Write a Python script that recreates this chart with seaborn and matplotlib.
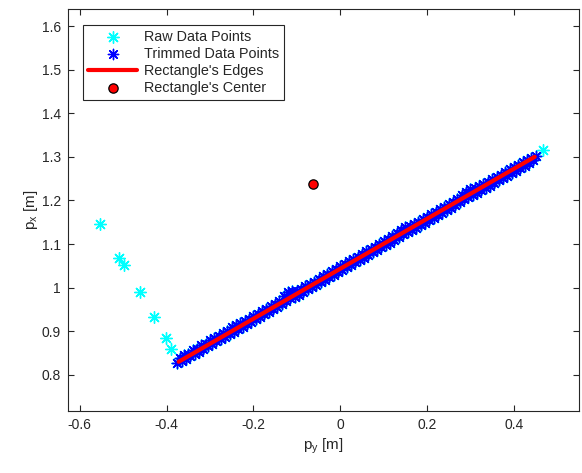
import matplotlib
matplotlib.use("Agg")
import matplotlib.pyplot as plt
import seaborn as sns
import numpy as np
import pandas as pd

# ---- data ----
outlier_x = [-0.554, -0.510, -0.497, -0.462, -0.428, -0.402, -0.389, 0.467]
outlier_y = [1.146, 1.068, 1.052, 0.990, 0.933, 0.885, 0.860, 1.316]

trim_a_x = [-0.370, -0.360, -0.350, -0.340, -0.330, -0.320, -0.310, -0.300, -0.290, -0.280,
            -0.270, -0.260, -0.250, -0.240, -0.230, -0.220, -0.210, -0.200, -0.190, -0.180,
            -0.170, -0.160, -0.150, -0.140, -0.130, -0.120, -0.110, -0.100, -0.090, -0.080,
            -0.070, -0.060, -0.050, -0.040, -0.030, -0.020, -0.010, 0.000, 0.010, 0.020,
            0.030, 0.040, 0.050, 0.060, 0.070, 0.080, 0.090, 0.100, 0.110, 0.120,
            0.130, 0.140, 0.150, 0.160, 0.170, 0.180, 0.190, 0.200, 0.210, 0.220,
            0.230, 0.240, 0.250, 0.260, 0.270, 0.280, 0.290, 0.300, 0.310, 0.320,
            0.330, 0.340, 0.350, 0.360, 0.370, 0.380, 0.390, 0.400, 0.410, 0.420,
            0.430, 0.440, 0.450]
trim_a_y = [0.838, 0.845, 0.848, 0.856, 0.860, 0.868, 0.871, 0.879, 0.884, 0.889,
            0.897, 0.901, 0.909, 0.914, 0.918, 0.923, 0.929, 0.934, 0.940, 0.947,
            0.952, 0.958, 0.963, 0.970, 0.980, 0.990, 0.992, 0.993, 0.997, 1.003,
            1.009, 1.014, 1.020, 1.026, 1.032, 1.037, 1.043, 1.049, 1.054, 1.060,
            1.065, 1.071, 1.077, 1.083, 1.088, 1.094, 1.099, 1.106, 1.112, 1.118,
            1.125, 1.133, 1.140, 1.142, 1.146, 1.151, 1.157, 1.163, 1.168, 1.174,
            1.180, 1.186, 1.191, 1.197, 1.204, 1.212, 1.220, 1.226, 1.229, 1.232,
            1.237, 1.242, 1.248, 1.254, 1.259, 1.265, 1.271, 1.276, 1.282, 1.288,
            1.293, 1.298, 1.302]

trim_b_x = [-0.375, -0.365, -0.355, -0.345, -0.335, -0.325, -0.315, -0.305, -0.295, -0.285,
            -0.275, -0.265, -0.255, -0.245, -0.235, -0.225, -0.215, -0.205, -0.195, -0.185,
            -0.175, -0.165, -0.155, -0.145, -0.135, -0.125, -0.115, -0.105, -0.095, -0.085,
            -0.075, -0.065, -0.055, -0.045, -0.035, -0.025, -0.015, -0.005, 0.005, 0.015,
            0.025, 0.035, 0.045, 0.055, 0.065, 0.075, 0.085, 0.095, 0.105, 0.115,
            0.125, 0.135, 0.145, 0.155, 0.165, 0.175, 0.185, 0.195, 0.205, 0.215,
            0.225, 0.235, 0.245, 0.255, 0.265, 0.275, 0.285, 0.295, 0.305, 0.315,
            0.325, 0.335, 0.345, 0.355, 0.365, 0.375, 0.385, 0.395, 0.405, 0.415,
            0.425, 0.435, 0.445]
trim_b_y = [0.826, 0.832, 0.836, 0.843, 0.848, 0.853, 0.860, 0.865, 0.870, 0.877,
            0.882, 0.887, 0.894, 0.899, 0.905, 0.910, 0.916, 0.921, 0.928, 0.932,
            0.939, 0.944, 0.950, 0.956, 0.962, 0.970, 0.976, 0.978, 0.983, 0.990,
            0.996, 1.001, 1.007, 1.013, 1.018, 1.024, 1.030, 1.035, 1.041, 1.047,
            1.052, 1.058, 1.063, 1.069, 1.075, 1.081, 1.086, 1.092, 1.098, 1.103,
            1.109, 1.116, 1.123, 1.127, 1.131, 1.137, 1.143, 1.149, 1.155, 1.160,
            1.166, 1.172, 1.177, 1.183, 1.189, 1.196, 1.203, 1.208, 1.212, 1.217,
            1.223, 1.229, 1.234, 1.240, 1.246, 1.251, 1.257, 1.263, 1.268, 1.274,
            1.280, 1.285, 1.292]

edge_x = [-0.372, 0.448]
edge_y = [0.830, 1.300]

center_x = [-0.062]
center_y = [1.238]

x_ticks = [-0.6, -0.4, -0.2, 0.0, 0.2, 0.4]
x_tick_labels = ["-0.6", "-0.4", "-0.2", "0", "0.2", "0.4"]
y_ticks = [0.8, 0.9, 1.0, 1.1, 1.2, 1.3, 1.4, 1.5, 1.6]
y_tick_labels = ["0.8", "0.9", "1", "1.1", "1.2", "1.3", "1.4", "1.5", "1.6"]

# ---- tables ----
trim_df = pd.DataFrame({"x": trim_a_x + trim_b_x, "y": trim_a_y + trim_b_y})
raw_df = pd.DataFrame({"x": outlier_x + list(trim_df["x"]), "y": outlier_y + list(trim_df["y"])})
edge_df = pd.DataFrame({"x": edge_x, "y": edge_y})
center_df = pd.DataFrame({"x": center_x, "y": center_y})

sns.set_style("white")
plt.rcParams['font.family'] = ['Liberation Sans', 'DejaVu Sans']
plt.rcParams['xtick.direction'] = 'in'
plt.rcParams['ytick.direction'] = 'in'

fig = plt.figure(figsize=(5.82, 4.73), dpi=100)
ax = fig.add_axes([68 / 582, 1 - 411 / 473, (579 - 68) / 582, (411 - 9) / 473])

star = (8, 2, 0)
sns.scatterplot(data=raw_df, x="x", y="y", ax=ax, marker=star, color="#00FFFF",
                s=70, linewidth=1.0, label="Raw Data Points", zorder=2)
sns.scatterplot(data=trim_df, x="x", y="y", ax=ax, marker=star, color="#0000FF",
                s=55, linewidth=1.0, label="Trimmed Data Points", zorder=3)
sns.lineplot(data=edge_df, x="x", y="y", ax=ax, color="#FF0000", linewidth=3.0,
             sort=False, estimator=None, label="Rectangle's Edges", zorder=4)
sns.scatterplot(data=center_df, x="x", y="y", ax=ax, marker="o", color="#FF0000",
                edgecolor="black", s=45, linewidth=0.9, label="Rectangle's Center", zorder=5)

ax.set_xlim(-0.627, 0.55)
ax.set_ylim(0.717, 1.639)
ax.set_xticks(x_ticks)
ax.set_xticklabels(x_tick_labels, fontsize=10)
ax.set_yticks(y_ticks)
ax.set_yticklabels(y_tick_labels, fontsize=10)
ax.tick_params(axis='both', which='both', direction='in', length=4, width=0.8,
               color='#262626', labelcolor='#262626', top=True, right=True,
               bottom=True, left=True, pad=5)
for sp in ax.spines.values():
    sp.set_visible(True)
    sp.set_color('#262626')
    sp.set_linewidth(0.8)

ax.set_xlabel(r"p$_\mathregular{y}$ [m]", fontsize=11, color='#262626', labelpad=3)
ax.set_ylabel(r"p$_\mathregular{x}$ [m]", fontsize=11, color='#262626', labelpad=1)

leg = ax.legend(loc='upper left', bbox_to_anchor=(83 / 582, 1 - 25 / 473),
                bbox_transform=fig.transFigure, borderaxespad=0, fontsize=10.4,
                fancybox=False, frameon=True, edgecolor='#262626', framealpha=1,
                handlelength=3.4, handletextpad=0.45, labelspacing=0.2,
                borderpad=0.35, scatterpoints=1)
leg.get_frame().set_linewidth(0.8)

fig.savefig("out.png", dpi=100)
